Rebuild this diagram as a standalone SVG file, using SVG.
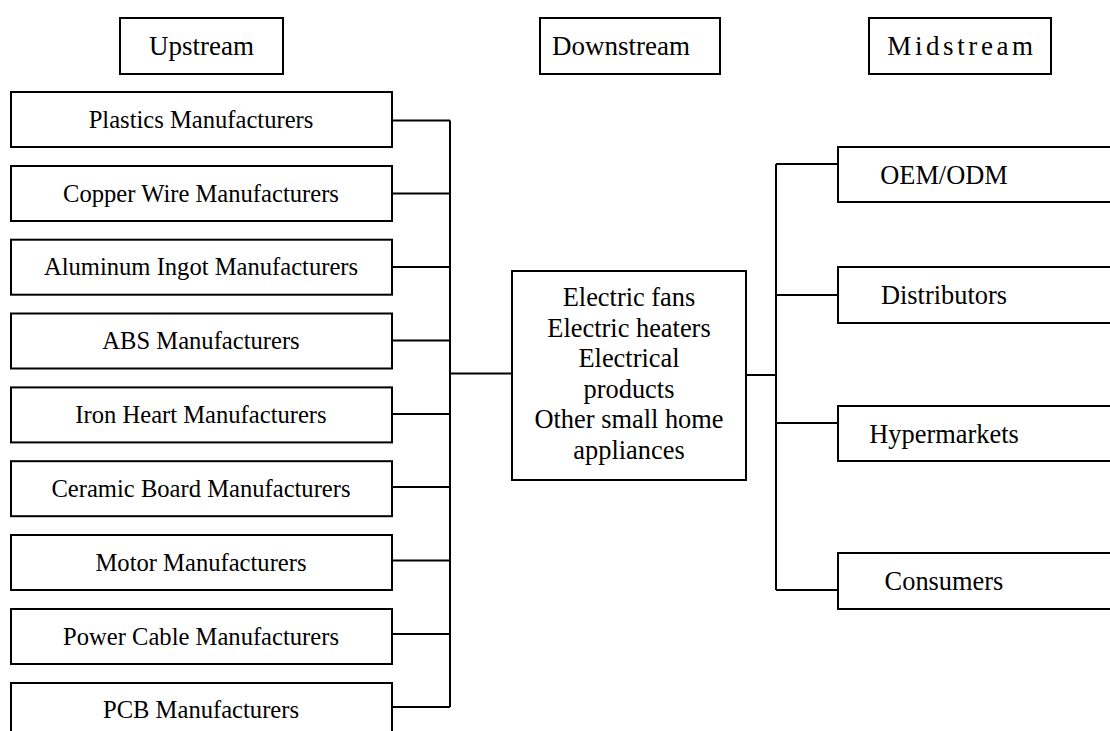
<svg xmlns="http://www.w3.org/2000/svg" width="1110" height="731" viewBox="0 0 1110 731">
<style>
rect{fill:#fff;stroke:#000;stroke-width:2}
text{font-family:'Liberation Serif','DejaVu Serif',serif;fill:#000;text-anchor:middle}
.h{font-size:27px}
.l{font-size:24.6px}
.r{font-size:26.4px}
.c{font-size:26.4px}
#connectors path{fill:none;stroke:#000;stroke-width:2}
</style>
<rect x="0" y="0" width="1110" height="731" style="stroke:none"/>
<g id="connectors">
<path d="M392 120.5H450M392 193.5H450M392 267H450M392 340.5H450M392 414H450M392 487H450M392 560.5H450M392 634H450M392 707H450M450 120.5V707M450 373.5H512"/>
<path d="M746 375H776M776 164V590M776 164H838M776 295H838M776 423H838M776 590H838"/>
</g>
<g id="upstream"><rect x="120" y="18" width="163" height="56"/><text class="h" x="201.5" y="55">Upstream</text></g>
<g id="downstream"><rect x="540" y="18" width="180" height="56"/><text class="h" x="621" y="55">Downstream</text></g>
<g id="midstream"><rect x="869" y="18" width="182" height="56"/><text class="h" x="962" y="55" letter-spacing="3.6">Midstream</text></g>
<g id="n-plastics"><rect x="11" y="92" width="381" height="55"/><text class="l" x="201" y="127.5">Plastics Manufacturers</text></g>
<g id="n-copper"><rect x="11" y="166" width="381" height="55"/><text class="l" x="201" y="201.5">Copper Wire Manufacturers</text></g>
<g id="n-aluminum"><rect x="11" y="239.7" width="381" height="55"/><text class="l" x="201" y="275">Aluminum Ingot Manufacturers</text></g>
<g id="n-abs"><rect x="11" y="313.5" width="381" height="55"/><text class="l" x="201" y="349">ABS Manufacturers</text></g>
<g id="n-iron"><rect x="11" y="387.4" width="381" height="55"/><text class="l" x="201" y="423">Iron Heart Manufacturers</text></g>
<g id="n-ceramic"><rect x="11" y="461.2" width="381" height="55"/><text class="l" x="201" y="496.5">Ceramic Board Manufacturers</text></g>
<g id="n-motor"><rect x="11" y="535" width="381" height="55"/><text class="l" x="201" y="570.5">Motor Manufacturers</text></g>
<g id="n-power"><rect x="11" y="609" width="381" height="55"/><text class="l" x="201" y="644.5">Power Cable Manufacturers</text></g>
<g id="n-pcb"><rect x="11" y="683" width="381" height="60"/><text class="l" x="201" y="718">PCB Manufacturers</text></g>
<g id="n-products"><rect x="512" y="271" width="234" height="209"/>
<text class="c" x="629" y="306">Electric fans</text>
<text class="c" x="629" y="336.5">Electric heaters</text>
<text class="c" x="629" y="367">Electrical</text>
<text class="c" x="629" y="397.5">products</text>
<text class="c" x="629" y="428">Other small home</text>
<text class="c" x="629" y="458.5">appliances</text>
</g>
<g id="n-oem"><rect x="838" y="147" width="290" height="55"/><text class="r" x="944" y="184">OEM/ODM</text></g>
<g id="n-distributors"><rect x="838" y="267" width="290" height="56"/><text class="r" x="944" y="304">Distributors</text></g>
<g id="n-hypermarkets"><rect x="838" y="406" width="290" height="55"/><text class="r" x="944" y="443">Hypermarkets</text></g>
<g id="n-consumers"><rect x="838" y="553" width="290" height="56"/><text class="r" x="944" y="590">Consumers</text></g>
</svg>
